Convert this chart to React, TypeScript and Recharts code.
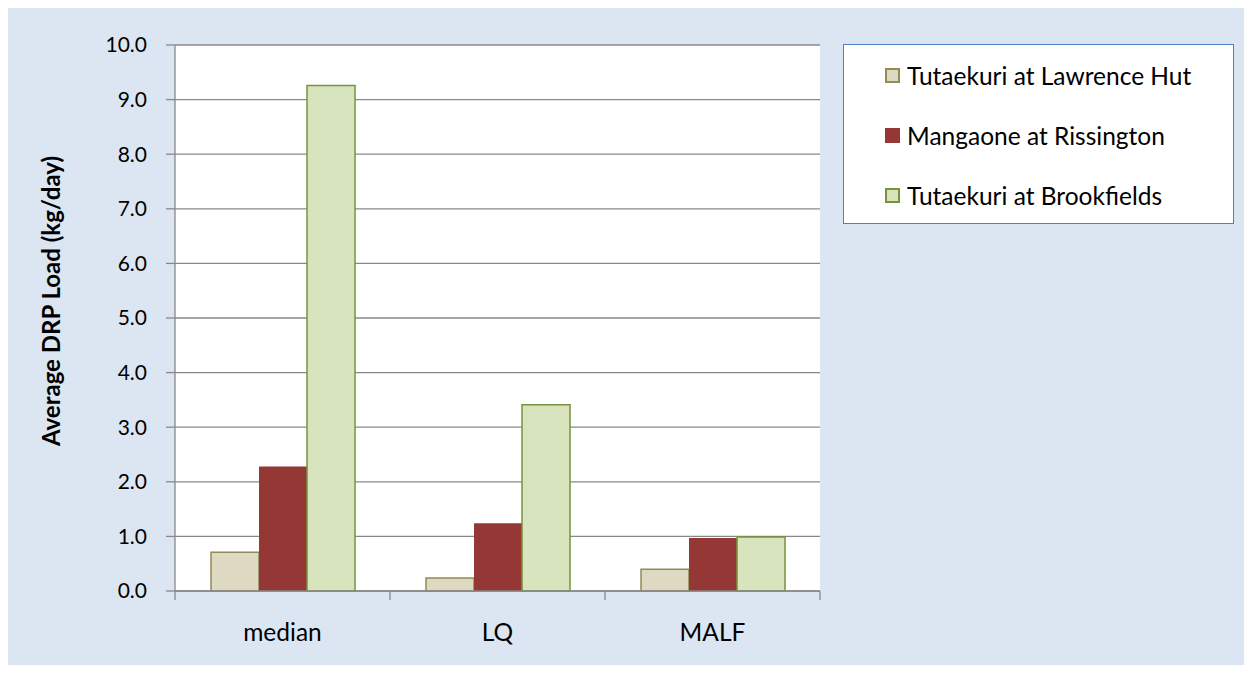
import React from 'react';
import { BarChart, Bar, XAxis, YAxis, CartesianGrid, Legend } from 'recharts';

const categories = ['median', 'LQ', 'MALF'];
const lawrenceHut = [0.71, 0.24, 0.4];
const rissington = [2.28, 1.24, 0.97];
const brookfields = [9.26, 3.41, 0.99];
const yTicks = [0, 1, 2, 3, 4, 5, 6, 7, 8, 9, 10];

const seriesInfo = [
  { key: 'lawrence', name: 'Tutaekuri at Lawrence Hut', fill: '#DDD9C3', stroke: '#948A54' },
  { key: 'rissington', name: 'Mangaone at Rissington', fill: '#953735', stroke: '#953735' },
  { key: 'brookfields', name: 'Tutaekuri at Brookfields', fill: '#D7E4BD', stroke: '#77933C' },
];

const data = categories.map((c, i) => ({
  cat: c,
  lawrence: lawrenceHut[i],
  rissington: rissington[i],
  brookfields: brookfields[i],
}));

const FONT = 'Lato, "Open Sans", sans-serif';
const AXIS_COLOR = '#888888';

const LegendBox = () => (
  <div
    style={{
      width: 391,
      height: 180,
      border: '1.5px solid #4F81BD',
      background: '#FFFFFF',
      boxSizing: 'border-box',
      fontFamily: FONT,
      fontSize: 24.5,
      color: '#000',
      paddingTop: 0,
    }}
  >
    {seriesInfo.map((s) => (
      <div key={s.key} style={{ display: 'flex', alignItems: 'center', height: 60, paddingLeft: 41 }}>
        <div
          style={{
            width: 15,
            height: 15,
            background: s.fill,
            border: `2px solid ${s.stroke}`,
            boxSizing: 'border-box',
            marginRight: 7,
          }}
        />
        <span>{s.name}</span>
      </div>
    ))}
  </div>
);

const YLabel = (props: any) => {
  const vb = props.viewBox || {};
  const cx = 43;
  const cy = vb.y + vb.height / 2 - 17;
  return (
    <text
      x={cx}
      y={cy}
      transform={`rotate(-90, ${cx}, ${cy})`}
      textAnchor="middle"
      dominantBaseline="central"
      fontFamily={FONT}
      fontWeight="bold"
      fontSize={24}
      fill="#000"
    >
      Average DRP Load (kg/day)
    </text>
  );
};

const CategoryTick = (props: any) => {
  const { x, y, payload, index, visibleTicksCount } = props;
  const half = payload && typeof payload.offset === 'number' ? payload.offset : 0;
  const isLast = index === (visibleTicksCount ?? categories.length) - 1;
  return (
    <g>
      {half > 0 && (
        <line x1={x - half} y1={y} x2={x - half} y2={y + 9} stroke={AXIS_COLOR} strokeWidth={1.3} />
      )}
      {half > 0 && isLast && (
        <line x1={x + half} y1={y} x2={x + half} y2={y + 9} stroke={AXIS_COLOR} strokeWidth={1.3} />
      )}
      <text
        x={x}
        y={y + 33}
        dy="0.71em"
        textAnchor="middle"
        fill="#000"
        fontSize={24.5}
        fontFamily={FONT}
      >
        {payload.value}
      </text>
    </g>
  );
};

export default function App() {
  return (
    <div style={{ margin: '-1px 0 0 -1px', width: 1238, height: 658, background: '#DCE6F2' }}>
      <BarChart
        width={1238}
        height={658}
        data={data}
        margin={{ top: 38, right: 425, bottom: 72, left: 0 }}
        barCategoryGap="16.75%"
        barGap={0}
      >
        <CartesianGrid vertical={false} stroke={AXIS_COLOR} strokeWidth={1.3} fill="#FFFFFF" />
        <XAxis
          dataKey="cat"
          height={2}
          interval={0}
          axisLine={{ stroke: AXIS_COLOR, strokeWidth: 1.3 }}
          tickLine={false}
          tickSize={0}
          tickMargin={0}
          tick={<CategoryTick />}
        />
        <YAxis
          width={168}
          domain={[0, 10]}
          ticks={yTicks}
          interval={0}
          tickFormatter={(v: number) => v.toFixed(1)}
          tickSize={9}
          tickMargin={19}
          axisLine={{ stroke: AXIS_COLOR, strokeWidth: 1.3 }}
          tickLine={{ stroke: AXIS_COLOR, strokeWidth: 1.3 }}
          tick={{ fill: '#000', fontSize: 21, fontFamily: FONT }}
          label={<YLabel />}
        />
        <Legend
          layout="vertical"
          align="center"
          verticalAlign="middle"
          content={<LegendBox />}
          wrapperStyle={{ position: 'absolute', left: 836, top: 37, width: 391, height: 180 }}
        />
        {seriesInfo.map((s) => (
          <Bar
            key={s.key}
            dataKey={s.key}
            name={s.name}
            fill={s.fill}
            stroke={s.stroke}
            strokeWidth={s.key === 'rissington' ? 0 : 1.5}
            isAnimationActive={false}
          />
        ))}
      </BarChart>
    </div>
  );
}
